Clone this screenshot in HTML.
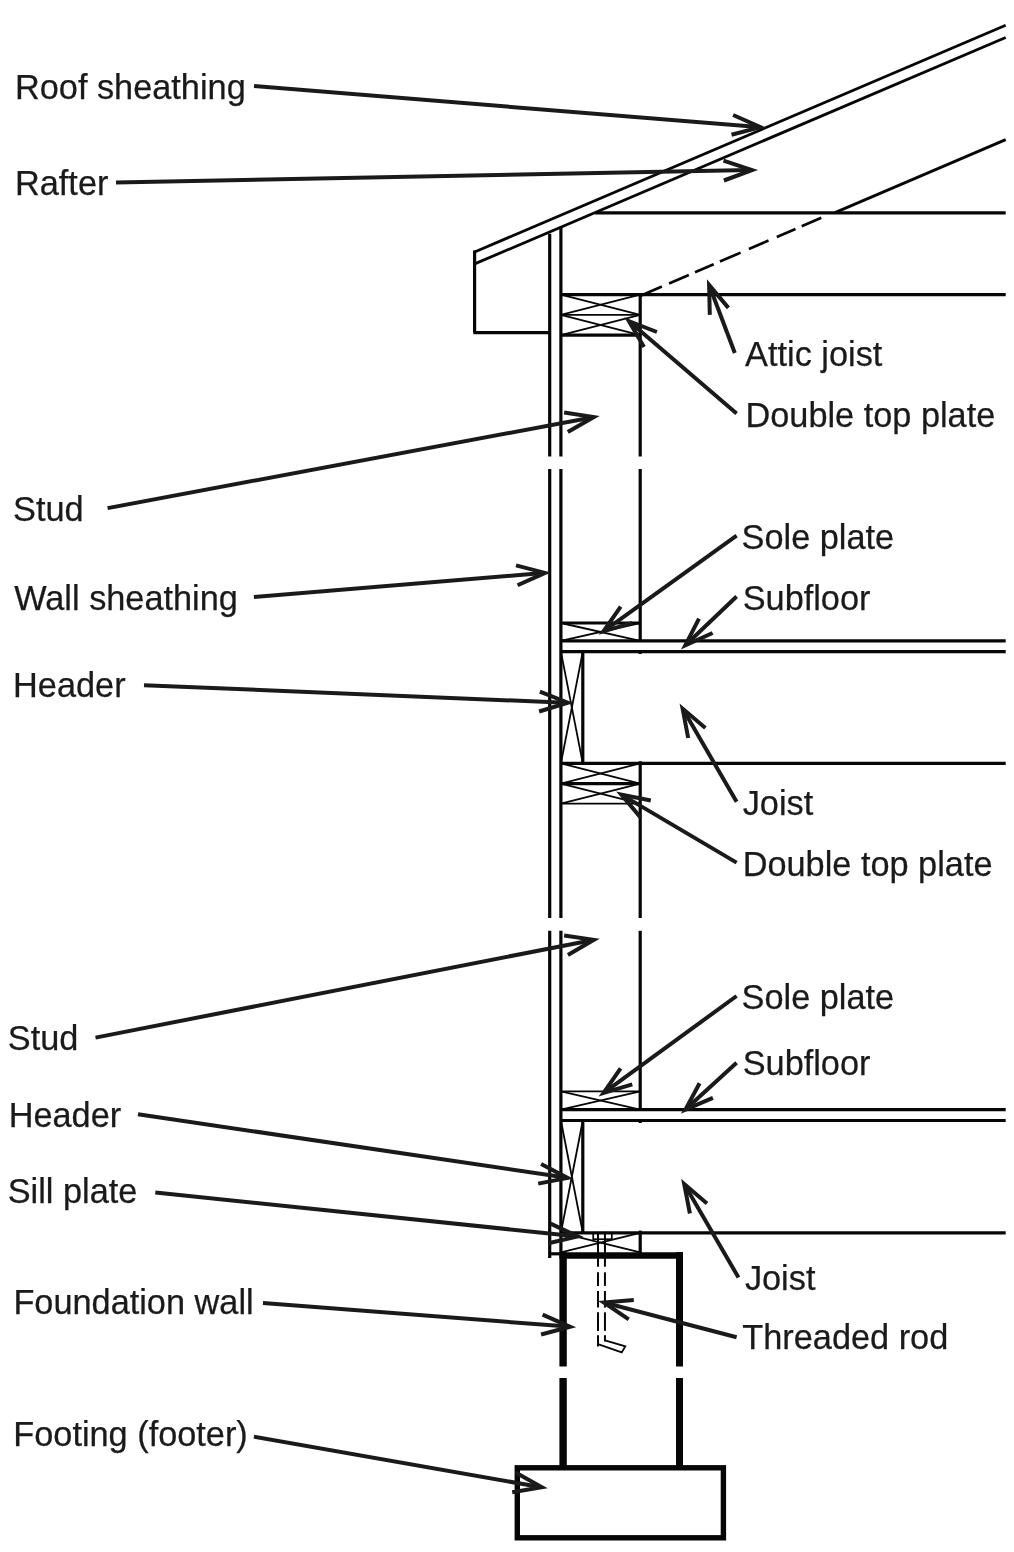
<!DOCTYPE html>
<html lang="en">
<head>
<meta charset="utf-8">
<title>Platform framing wall section</title>
<style>
html,body{margin:0;padding:0;background:#fff;}
body{width:1014px;height:1552px;overflow:hidden;}
svg{display:block;will-change:transform;filter:grayscale(1);}
svg line,svg polyline,svg rect,svg path{stroke:#060606;fill:none;}
svg .a{stroke:#1c1a1b;}
svg text{font-family:"Liberation Sans",Arial,Helvetica,sans-serif;font-size:34.3px;fill:#1c1a1b;stroke:#1c1a1b;stroke-width:0.25px;}
</style>
</head>
<body>
<svg role="img" aria-label="Platform framing wall section" width="1014" height="1552" viewBox="0 0 1014 1552">
<rect x="0" y="0" width="1014" height="1552" style="fill:#fff;stroke:none"/>
<line x1="474.6" y1="252.0" x2="1005.7" y2="25.2" stroke-width="2.8" />
<line x1="474.6" y1="263.9" x2="1005.7" y2="37.5" stroke-width="2.8" />
<line x1="474.6" y1="250.5" x2="474.6" y2="332.6" stroke-width="3.2" />
<line x1="473.4" y1="332.6" x2="549.7" y2="332.6" stroke-width="3.2" />
<line x1="835" y1="212.6" x2="1005.7" y2="139.6" stroke-width="2.8" />
<line x1="640.6" y1="295.79" x2="661.9" y2="286.6" stroke-width="2.7" />
<line x1="669.1" y1="283.49" x2="688.8" y2="274.99" stroke-width="2.7" />
<line x1="695.0" y1="272.31" x2="713.7" y2="264.24" stroke-width="2.7" />
<line x1="719.9" y1="261.56" x2="740.6" y2="252.63" stroke-width="2.7" />
<line x1="748.9" y1="249.05" x2="768.5" y2="240.59" stroke-width="2.7" />
<line x1="776.8" y1="237.01" x2="795.5" y2="228.94" stroke-width="2.7" />
<line x1="801.7" y1="226.26" x2="821.3" y2="217.8" stroke-width="2.7" />
<line x1="595" y1="212.8" x2="1005.7" y2="212.8" stroke-width="3.2" />
<line x1="560.9" y1="294.6" x2="1005.7" y2="294.6" stroke-width="3.2" />
<line x1="560.9" y1="314.9" x2="640.2" y2="314.9" stroke-width="1.8" />
<line x1="560.9" y1="335.1" x2="640.2" y2="335.1" stroke-width="3.2" />
<line x1="560.9" y1="294.6" x2="640.2" y2="314.9" stroke-width="1.8" />
<line x1="560.9" y1="314.9" x2="640.2" y2="294.6" stroke-width="1.8" />
<line x1="560.9" y1="314.9" x2="640.2" y2="335.1" stroke-width="1.8" />
<line x1="560.9" y1="335.1" x2="640.2" y2="314.9" stroke-width="1.8" />
<line x1="549.7" y1="233.8" x2="549.7" y2="456.5" stroke-width="3.2" />
<line x1="560.9" y1="227.4" x2="560.9" y2="456.5" stroke-width="3.2" />
<line x1="640.2" y1="294.6" x2="640.2" y2="456.5" stroke-width="3.2" />
<line x1="549.7" y1="469" x2="549.7" y2="918" stroke-width="3.2" />
<line x1="560.9" y1="469" x2="560.9" y2="918" stroke-width="3.2" />
<line x1="640.2" y1="469" x2="640.2" y2="640.8" stroke-width="3.2" />
<line x1="560.9" y1="623.0" x2="640.2" y2="623.0" stroke-width="3.2" />
<line x1="560.9" y1="623.0" x2="640.2" y2="640.8" stroke-width="1.8" />
<line x1="560.9" y1="640.8" x2="640.2" y2="623.0" stroke-width="1.8" />
<line x1="560.9" y1="640.8" x2="1005.7" y2="640.8" stroke-width="3.2" />
<line x1="560.9" y1="651.6" x2="1005.7" y2="651.6" stroke-width="3.2" />
<line x1="582.8" y1="652.5" x2="582.8" y2="763.3" stroke-width="3.2" />
<line x1="560.9" y1="651.6" x2="582.8" y2="763.3" stroke-width="1.8" />
<line x1="560.9" y1="763.3" x2="582.8" y2="651.6" stroke-width="1.8" />
<line x1="560.9" y1="763.3" x2="1005.7" y2="763.3" stroke-width="3.2" />
<line x1="560.9" y1="783.7" x2="640.2" y2="783.7" stroke-width="3.2" />
<line x1="560.9" y1="803.7" x2="640.2" y2="803.7" stroke-width="1.8" />
<line x1="560.9" y1="763.3" x2="640.2" y2="783.7" stroke-width="1.8" />
<line x1="560.9" y1="783.7" x2="640.2" y2="763.3" stroke-width="1.8" />
<line x1="560.9" y1="783.7" x2="640.2" y2="803.7" stroke-width="1.8" />
<line x1="560.9" y1="803.7" x2="640.2" y2="783.7" stroke-width="1.8" />
<line x1="640.2" y1="761.2" x2="640.2" y2="918" stroke-width="3.2" />
<line x1="549.7" y1="930.8" x2="549.7" y2="1258" stroke-width="3.2" />
<line x1="560.9" y1="930.8" x2="560.9" y2="1253" stroke-width="3.2" />
<line x1="640.2" y1="930.8" x2="640.2" y2="1109.7" stroke-width="3.2" />
<line x1="560.9" y1="1091.4" x2="640.2" y2="1091.4" stroke-width="1.8" />
<line x1="560.9" y1="1091.4" x2="640.2" y2="1109.7" stroke-width="1.8" />
<line x1="560.9" y1="1109.7" x2="640.2" y2="1091.4" stroke-width="1.8" />
<line x1="560.9" y1="1109.7" x2="1005.7" y2="1109.7" stroke-width="3.2" />
<line x1="560.9" y1="1120.5" x2="1005.7" y2="1120.5" stroke-width="3.2" />
<line x1="640.2" y1="1120.5" x2="640.2" y2="1123" stroke-width="3.2" />
<line x1="640.2" y1="651.6" x2="640.2" y2="654" stroke-width="3.2" />
<line x1="582.8" y1="1121.5" x2="582.8" y2="1232.8" stroke-width="3.2" />
<line x1="560.9" y1="1120.5" x2="582.8" y2="1232.8" stroke-width="1.8" />
<line x1="560.9" y1="1232.8" x2="582.8" y2="1120.5" stroke-width="1.8" />
<line x1="560.9" y1="1232.8" x2="1005.7" y2="1232.8" stroke-width="3.2" />
<line x1="640.2" y1="1230.6" x2="640.2" y2="1253" stroke-width="3.2" />
<line x1="560.9" y1="1232.8" x2="640.2" y2="1252.4" stroke-width="1.8" />
<line x1="560.9" y1="1252.4" x2="640.2" y2="1232.8" stroke-width="1.8" />
<line x1="549.7" y1="1253.8" x2="560.9" y2="1253.8" stroke-width="3.2" />
<rect x="593.2" y="1232.8" width="18.6" height="6.4" stroke-width="1.7"/>
<line x1="559.4" y1="1255.5" x2="683.0" y2="1255.5" stroke-width="6.6" />
<line x1="563.1" y1="1252.2" x2="563.1" y2="1366.5" stroke-width="7.4" />
<line x1="679.5" y1="1252.2" x2="679.5" y2="1366.5" stroke-width="7.0" />
<line x1="563.1" y1="1378" x2="563.1" y2="1466" stroke-width="7.4" />
<line x1="679.5" y1="1378" x2="679.5" y2="1466" stroke-width="7.0" />
<rect x="517.3" y="1467.8" width="206.1" height="70" stroke-width="5.4"/>
<line x1="598.0" y1="1233.5" x2="598.0" y2="1266.7" stroke-width="2.0" />
<line x1="598.0" y1="1272.3" x2="598.0" y2="1285.9" stroke-width="2.0" />
<line x1="598.0" y1="1291.0" x2="598.0" y2="1307.6" stroke-width="2.0" />
<line x1="598.0" y1="1312.3" x2="598.0" y2="1330.9" stroke-width="2.0" />
<line x1="598.0" y1="1335.2" x2="598.0" y2="1346.6" stroke-width="2.0" />
<line x1="604.95" y1="1233.5" x2="604.95" y2="1266.7" stroke-width="2.0" />
<line x1="604.95" y1="1272.3" x2="604.95" y2="1285.9" stroke-width="2.0" />
<line x1="604.95" y1="1291.0" x2="604.95" y2="1307.6" stroke-width="2.0" />
<line x1="604.95" y1="1312.3" x2="604.95" y2="1330.9" stroke-width="2.0" />
<line x1="604.95" y1="1335.2" x2="604.95" y2="1341.5" stroke-width="2.0" />
<polyline points="598.0,1344.2 621.7,1352.4 625.3,1346.4 605.0,1340.3" stroke-width="1.8" stroke-linejoin="miter"/>
<line x1="254" y1="86" x2="758.5" y2="127.0" stroke-width="4.0" class="a"/>
<polyline points="731.5,134.8 760.5,127.2 733.1,115.0" stroke-width="4.0" class="a" stroke-linejoin="miter" stroke-miterlimit="10"/>
<line x1="116" y1="182.5" x2="750.0" y2="170.1" stroke-width="4.0" class="a"/>
<polyline points="723.9,180.5 752.0,170.1 723.5,160.7" stroke-width="4.0" class="a" stroke-linejoin="miter" stroke-miterlimit="10"/>
<line x1="107.6" y1="508.1" x2="591.8" y2="417.5" stroke-width="4.0" class="a"/>
<polyline points="567.8,432.1 593.8,417.1 564.1,412.6" stroke-width="4.0" class="a" stroke-linejoin="miter" stroke-miterlimit="10"/>
<line x1="253.9" y1="597.1" x2="543.0" y2="573.1" stroke-width="4.0" class="a"/>
<polyline points="517.6,585.2 545.0,572.9 516.0,565.4" stroke-width="4.0" class="a" stroke-linejoin="miter" stroke-miterlimit="10"/>
<line x1="144" y1="685.2" x2="565.8" y2="702.7" stroke-width="4.0" class="a"/>
<polyline points="539.1,711.5 567.8,702.7 539.9,691.7" stroke-width="4.0" class="a" stroke-linejoin="miter" stroke-miterlimit="10"/>
<line x1="95.5" y1="1037.6" x2="591.8" y2="940.2" stroke-width="4.0" class="a"/>
<polyline points="567.9,955.0 593.8,939.8 564.1,935.5" stroke-width="4.0" class="a" stroke-linejoin="miter" stroke-miterlimit="10"/>
<line x1="138" y1="1114.2" x2="565.7" y2="1177.6" stroke-width="4.0" class="a"/>
<polyline points="538.2,1183.6 567.6,1177.9 541.1,1164.0" stroke-width="4.0" class="a" stroke-linejoin="miter" stroke-miterlimit="10"/>
<line x1="155.3" y1="1192.5" x2="575.7" y2="1236.2" stroke-width="4.0" class="a"/>
<polyline points="548.5,1243.3 577.7,1236.4 550.6,1223.6" stroke-width="4.0" class="a" stroke-linejoin="miter" stroke-miterlimit="10"/>
<line x1="263" y1="1303" x2="568.1" y2="1326.6" stroke-width="4.0" class="a"/>
<polyline points="541.1,1334.5 570.1,1326.8 542.6,1314.7" stroke-width="4.0" class="a" stroke-linejoin="miter" stroke-miterlimit="10"/>
<line x1="253.9" y1="1436.6" x2="539.8" y2="1487.0" stroke-width="4.0" class="a"/>
<polyline points="512.2,1492.2 541.8,1487.3 515.6,1472.6" stroke-width="4.0" class="a" stroke-linejoin="miter" stroke-miterlimit="10"/>
<line x1="734.8" y1="353" x2="709.8" y2="286.8" stroke-width="4.0" class="a"/>
<polyline points="728.4,307.9 709.1,284.9 709.8,314.9" stroke-width="4.0" class="a" stroke-linejoin="miter" stroke-miterlimit="10"/>
<line x1="736.6" y1="413.5" x2="630.5" y2="322.4" stroke-width="4.0" class="a"/>
<polyline points="656.9,332.0 628.9,321.1 644.0,347.1" stroke-width="4.0" class="a" stroke-linejoin="miter" stroke-miterlimit="10"/>
<line x1="736.6" y1="535.6" x2="605.2" y2="630.1" stroke-width="4.0" class="a"/>
<polyline points="620.7,606.7 603.5,631.3 632.3,622.8" stroke-width="4.0" class="a" stroke-linejoin="miter" stroke-miterlimit="10"/>
<line x1="736.6" y1="596.5" x2="686.7" y2="644.0" stroke-width="4.0" class="a"/>
<polyline points="699.0,618.6 685.3,645.3 712.6,633.0" stroke-width="4.0" class="a" stroke-linejoin="miter" stroke-miterlimit="10"/>
<line x1="736.6" y1="801.8" x2="683.6" y2="710.3" stroke-width="4.0" class="a"/>
<polyline points="705.4,728.1 682.6,708.6 688.2,738.0" stroke-width="4.0" class="a" stroke-linejoin="miter" stroke-miterlimit="10"/>
<line x1="736.6" y1="862.6" x2="623.1" y2="795.6" stroke-width="4.0" class="a"/>
<polyline points="650.8,800.5 621.3,794.6 640.7,817.6" stroke-width="4.0" class="a" stroke-linejoin="miter" stroke-miterlimit="10"/>
<line x1="736.6" y1="996" x2="605.1" y2="1091.9" stroke-width="4.0" class="a"/>
<polyline points="620.6,1068.3 603.5,1093.0 632.3,1084.4" stroke-width="4.0" class="a" stroke-linejoin="miter" stroke-miterlimit="10"/>
<line x1="736.6" y1="1062.8" x2="686.8" y2="1108.3" stroke-width="4.0" class="a"/>
<polyline points="699.6,1083.2 685.4,1109.6 712.9,1097.8" stroke-width="4.0" class="a" stroke-linejoin="miter" stroke-miterlimit="10"/>
<line x1="738.5" y1="1277.5" x2="685.2" y2="1185.8" stroke-width="4.0" class="a"/>
<polyline points="707.0,1203.6 684.2,1184.1 689.9,1213.5" stroke-width="4.0" class="a" stroke-linejoin="miter" stroke-miterlimit="10"/>
<line x1="736.6" y1="1337.3" x2="605.8" y2="1303.0" stroke-width="4.0" class="a"/>
<polyline points="633.8,1300.1 603.9,1302.5 628.7,1319.3" stroke-width="4.0" class="a" stroke-linejoin="miter" stroke-miterlimit="10"/>
<text x="15" y="99">Roof sheathing</text>
<text x="15" y="195">Rafter</text>
<text x="13.1" y="521.1">Stud</text>
<text x="14.2" y="610.4">Wall sheathing</text>
<text x="13.1" y="697.4">Header</text>
<text x="7.8" y="1049.7">Stud</text>
<text x="8.7" y="1126.5">Header</text>
<text x="7.7" y="1203.4">Sill plate</text>
<text x="13.4" y="1314.2">Foundation wall</text>
<text x="13.3" y="1445.5">Footing (footer)</text>
<text x="745.1" y="365.9">Attic joist</text>
<text x="745.5" y="426.6">Double top plate</text>
<text x="741.6" y="549.0">Sole plate</text>
<text x="742.7" y="610.0">Subfloor</text>
<text x="742.7" y="814.9">Joist</text>
<text x="742.7" y="875.5">Double top plate</text>
<text x="741.6" y="1009.2">Sole plate</text>
<text x="742.7" y="1074.5">Subfloor</text>
<text x="744.9" y="1289.5">Joist</text>
<text x="742.3" y="1349.0">Threaded rod</text>
</svg>
</body>
</html>
